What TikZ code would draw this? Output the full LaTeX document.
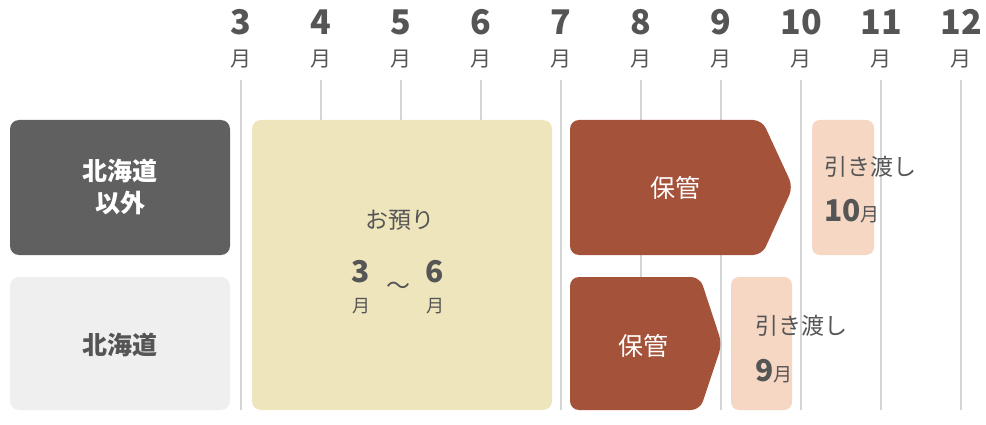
\documentclass[tikz,border=0pt]{standalone}
\usepackage{fontspec}
\setmainfont{Noto Sans CJK JP}
\newfontfamily\cjkb{Noto Sans CJK JP Bold}
\definecolor{txt}{HTML}{555555}
\definecolor{dark}{HTML}{606060}
\definecolor{light}{HTML}{EFEFEF}
\definecolor{yel}{HTML}{EFE5BC}
\definecolor{brn}{HTML}{A5523A}
\definecolor{pnk}{HTML}{F5D7C3}
\definecolor{grid}{HTML}{D5D5D5}
\begin{document}
\begin{tikzpicture}[x=1pt,y=-1pt,
  num/.style={font=\fontsize{34}{34}\selectfont\bfseries, text=txt, inner sep=0},
  mon/.style={font=\fontsize{21}{21}\selectfont, text=txt, inner sep=0},
  lbl/.style={font=\fontsize{25}{32}\selectfont\bfseries, align=center, inner sep=0}]
\useasboundingbox (0,0) rectangle (986,425);
\fill[white] (0,0) rectangle (986,425);
\foreach \m [count=\i from 0] in {3,...,12}{
  \node[num] (n\m) at (241+80*\i,22) {\m};
  \node[mon] (m\m) at (241+80*\i,59) {月};
  \coordinate (t\m) at (241+80*\i,80);
  \coordinate (b\m) at (241+80*\i,410);
  \draw[grid, line width=1.5] (t\m) -- (b\m);
}
\fill[dark, rounded corners=9] (10,120) rectangle (230,255);
\node[lbl, text=white] (a) at (120,187) {北海道\\以外};
\fill[light, rounded corners=9] (10,277) rectangle (230,410);
\node[lbl, text=txt] (b) at (120,345) {北海道};
\fill[yel, rounded corners=9] (252,120) rectangle (552,410);
\node[font=\fontsize{23}{23}\selectfont, text=txt] (c) at (400,220) {お預り};
\node[num, font=\fontsize{30}{30}\selectfont\bfseries] (c3) at (361,272) {3};
\node[mon, font=\fontsize{18}{18}\selectfont] (c3m) at (361,306) {月};
\node[font=\fontsize{24}{24}\selectfont, text=txt] (tl) at (398,288) {～};
\node[num, font=\fontsize{30}{30}\selectfont\bfseries] (c6) at (435,272) {6};
\node[mon, font=\fontsize{18}{18}\selectfont] (c6m) at (435,306) {月};
\fill[brn, rounded corners=9] (570,120) -- (762,120) -- (793,187) -- (762,255) -- (570,255) -- cycle;
\node[lbl, text=white, font=\fontsize{25}{25}\selectfont] (d) at (675,188) {保管};
\fill[brn, rounded corners=9] (570,277) -- (700,277) -- (722,344) -- (700,410) -- (570,410) -- cycle;
\node[lbl, text=white, font=\fontsize{25}{25}\selectfont] (e) at (643,346) {保管};
\fill[pnk, rounded corners=8] (812,120) rectangle (874,255);
\node[font=\fontsize{23}{23}\selectfont, text=txt, anchor=west, inner sep=0] (f) at (824,167) {引き渡し};
\node[anchor=base west, inner sep=0, text=txt] (g) at (824,222) {\fontsize{30}{30}\selectfont\bfseries 10\fontsize{19}{19}\mdseries 月};
\fill[pnk, rounded corners=8] (731,277) rectangle (792,410);
\node[font=\fontsize{23}{23}\selectfont, text=txt, anchor=west, inner sep=0] (h) at (755,326) {引き渡し};
\node[anchor=base west, inner sep=0, text=txt] (i) at (755,381) {\fontsize{30}{30}\selectfont\bfseries 9\fontsize{19}{19}\mdseries 月};
\end{tikzpicture}
\end{document}
